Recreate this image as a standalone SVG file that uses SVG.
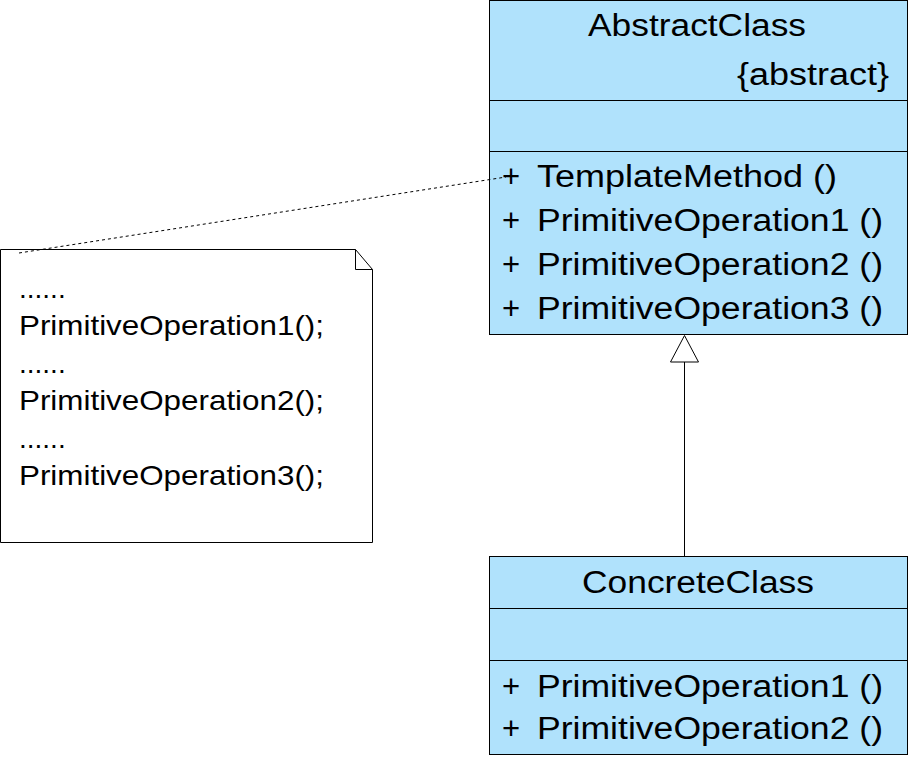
<svg xmlns="http://www.w3.org/2000/svg" width="912" height="758" viewBox="0 0 912 758">
<style>
.box{fill:#b0e2fc;stroke:#000;stroke-width:1}
.ln{stroke:#000;stroke-width:1;fill:none}
.t{font-family:"Liberation Sans",Arial,sans-serif;font-size:31px;fill:#000}
.n{font-family:"Liberation Sans",Arial,sans-serif;font-size:28px;fill:#000}
</style>
<rect width="912" height="758" fill="#fff"/>
<g id="AbstractClass">
<rect class="box" x="489.5" y="0.5" width="418" height="334"/>
<line class="ln" x1="489.5" y1="100.5" x2="907.5" y2="100.5"/>
<line class="ln" x1="489.5" y1="151.5" x2="907.5" y2="151.5"/>
<text class="t" x="588" y="36" textLength="218" lengthAdjust="spacingAndGlyphs">AbstractClass</text>
<text class="t" x="737" y="85" textLength="152" lengthAdjust="spacingAndGlyphs">{abstract}</text>
<text class="t" x="502" y="187">+</text>
<text class="t" x="502" y="231">+</text>
<text class="t" x="502" y="275">+</text>
<text class="t" x="502" y="319">+</text>
<text class="t" x="537" y="187" textLength="300" lengthAdjust="spacingAndGlyphs">TemplateMethod ()</text>
<text class="t" x="537" y="231" textLength="346" lengthAdjust="spacingAndGlyphs">PrimitiveOperation1 ()</text>
<text class="t" x="537" y="275" textLength="346" lengthAdjust="spacingAndGlyphs">PrimitiveOperation2 ()</text>
<text class="t" x="537" y="319" textLength="346" lengthAdjust="spacingAndGlyphs">PrimitiveOperation3 ()</text>
</g>
<g id="ConcreteClass">
<rect class="box" x="489.5" y="556.5" width="418" height="198"/>
<line class="ln" x1="489.5" y1="608.5" x2="907.5" y2="608.5"/>
<line class="ln" x1="489.5" y1="660.5" x2="907.5" y2="660.5"/>
<text class="t" x="582" y="593" textLength="232" lengthAdjust="spacingAndGlyphs">ConcreteClass</text>
<text class="t" x="502" y="697">+</text>
<text class="t" x="502" y="739">+</text>
<text class="t" x="537" y="697" textLength="346" lengthAdjust="spacingAndGlyphs">PrimitiveOperation1 ()</text>
<text class="t" x="537" y="739" textLength="346" lengthAdjust="spacingAndGlyphs">PrimitiveOperation2 ()</text>
</g>
<g id="note">
<polygon points="0.5,249.5 355.5,249.5 372.5,269.5 372.5,542.5 0.5,542.5" fill="#fff" stroke="#000" stroke-width="1"/>
<polyline class="ln" points="355.5,249.5 355.5,269.5 372.5,269.5"/>
<text class="n" x="19" y="298">......</text>
<text class="n" x="19" y="335" textLength="305" lengthAdjust="spacingAndGlyphs">PrimitiveOperation1();</text>
<text class="n" x="19" y="373">......</text>
<text class="n" x="19" y="410" textLength="305" lengthAdjust="spacingAndGlyphs">PrimitiveOperation2();</text>
<text class="n" x="19" y="448">......</text>
<text class="n" x="19" y="485" textLength="305" lengthAdjust="spacingAndGlyphs">PrimitiveOperation3();</text>
</g>
<g id="connectors">
<line x1="19" y1="253" x2="506" y2="177" stroke="#000" stroke-width="1" stroke-dasharray="3,3"/>
<line class="ln" x1="684.5" y1="362" x2="684.5" y2="556"/>
<polygon points="684.5,335.5 670.5,362 698.5,362" fill="#fff" stroke="#000" stroke-width="1"/>
</g>
</svg>
